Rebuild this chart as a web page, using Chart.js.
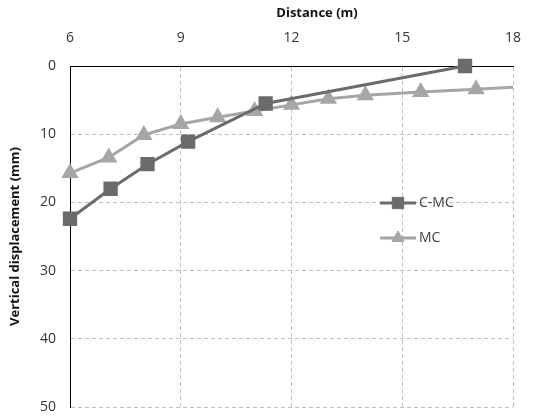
<!DOCTYPE html>
<html>
<head>
<meta charset="utf-8">
<script src="https://cdn.jsdelivr.net/npm/chart.js@4"></script>
<style>
  html, body { margin: 0; padding: 0; background: #fff; }
  #wrap { width: 534px; height: 419px; }
</style>
</head>
<body>
<div id="wrap"><canvas id="dispChart" width="534" height="419"></canvas></div>
<script>
// distance (m) and vertical displacement (mm)
const cmcDistance = [6, 7.1, 8.1, 9.2, 11.3, 16.7];
const cmcDisp = [22.4, 18.0, 14.4, 11.1, 5.5, 0];
const mcDistance = [6, 7.05, 8, 9, 10, 11, 12, 13, 14, 15.5, 17, 18];
const mcDisp = [15.7, 13.4, 10.1, 8.5, 7.5, 6.6, 5.7, 4.8, 4.3, 3.8, 3.4, 3.1];
const xTicks = [6, 9, 12, 15, 18];
const yTicks = [0, 10, 20, 30, 40, 50];

const darkGray = '#6b6b6b';
const lightGray = '#a6a6a6';
const fontFamily = '"Open Sans", "Noto Sans", sans-serif';

function toPoints(xs, ys) {
    return xs.map((x, i) => ({ x: x, y: ys[i] }));
}

// legend drawn inside the plot area
const innerLegend = {
    id: 'innerLegend',
    afterDatasetsDraw(chart) {
        const ctx = chart.ctx;
        const x0 = 380, x1 = 416;
        const rows = [203, 238];
        chart.data.datasets.forEach((ds, i) => {
            const y = rows[i];
            ctx.save();
            ctx.strokeStyle = ds.borderColor;
            ctx.lineWidth = ds.borderWidth;
            ctx.beginPath();
            ctx.moveTo(x0, y);
            ctx.lineTo(x1, y);
            ctx.stroke();
            ctx.fillStyle = ds.backgroundColor;
            ctx.lineWidth = 1;
            Chart.helpers.drawPoint(ctx, {
                pointStyle: ds.pointStyle,
                radius: ds.legendRadius,
                borderWidth: 1
            }, (x0 + x1) / 2, y);
            ctx.fillStyle = '#404040';
            ctx.font = '14px ' + fontFamily;
            ctx.textAlign = 'left';
            ctx.textBaseline = 'middle';
            ctx.fillText(ds.label, x1 + 3, y);
            ctx.restore();
        });
    }
};

// top axis title, set a little right of the plot centre
const topTitle = {
    id: 'topTitle',
    afterDraw(chart) {
        const ctx = chart.ctx;
        ctx.save();
        ctx.fillStyle = '#111';
        ctx.font = 'bold 13px ' + fontFamily;
        ctx.textAlign = 'center';
        ctx.textBaseline = 'middle';
        ctx.fillText('Distance (m)', 317, 13);
        ctx.restore();
    }
};

// last MC point sits on the right edge without a marker
const mcRadius = mcDistance.map((x, i) => i === mcDistance.length - 1 ? 0 : 7);

new Chart(document.getElementById('dispChart'), {
    type: 'line',
    data: {
        datasets: [{
            label: 'C-MC',
            data: toPoints(cmcDistance, cmcDisp),
            borderColor: darkGray,
            backgroundColor: darkGray,
            pointBackgroundColor: darkGray,
            pointBorderColor: darkGray,
            borderWidth: 3,
            pointStyle: 'rect',
            pointRadius: 8,
            legendRadius: 8,
            clip: false,
            tension: 0
        }, {
            label: 'MC',
            data: toPoints(mcDistance, mcDisp),
            borderColor: lightGray,
            backgroundColor: lightGray,
            pointBackgroundColor: lightGray,
            pointBorderColor: lightGray,
            borderWidth: 3,
            pointStyle: 'triangle',
            pointRadius: mcRadius,
            legendRadius: 7,
            clip: false,
            tension: 0
        }]
    },
    options: {
        responsive: false,
        animation: false,
        layout: { padding: { top: 0, right: 21, bottom: 12, left: 0 } },
        plugins: {
            legend: { display: false },
            tooltip: { enabled: false }
        },
        scales: {
            x: {
                type: 'linear',
                position: 'top',
                min: 6,
                max: 18,
                afterBuildTicks: (axis) => { axis.ticks = xTicks.map(v => ({ value: v })); },
                afterFit: (axis) => {
                    axis.height = 66;
                    axis.paddingLeft = 0;
                    axis.paddingRight = 0;
                },
                grid: { color: '#bfbfbf', drawTicks: false, lineWidth: 1 },
                border: { display: true, color: '#000', width: 1, dash: [4, 3] },
                ticks: { color: '#333', padding: 20, font: { family: fontFamily, size: 14 } },
                title: { display: false }
            },
            y: {
                type: 'linear',
                reverse: true,
                min: 0,
                max: 50,
                afterBuildTicks: (axis) => { axis.ticks = yTicks.map(v => ({ value: v })); },
                afterFit: (axis) => {
                    axis.width = 70;
                    axis.paddingTop = 0;
                    axis.paddingBottom = 0;
                },
                grid: { color: '#bfbfbf', drawTicks: false, lineWidth: 1 },
                border: { display: true, color: '#000', width: 1, dash: [4, 3] },
                ticks: { color: '#333', padding: 14, font: { family: fontFamily, size: 14 } },
                title: {
                    display: true,
                    text: 'Vertical displacement (mm)',
                    color: '#111',
                    padding: { top: 7, bottom: 4 },
                    font: { family: fontFamily, size: 13, weight: 'bold' }
                }
            }
        }
    },
    plugins: [innerLegend, topTitle]
});
</script>
</body>
</html>
